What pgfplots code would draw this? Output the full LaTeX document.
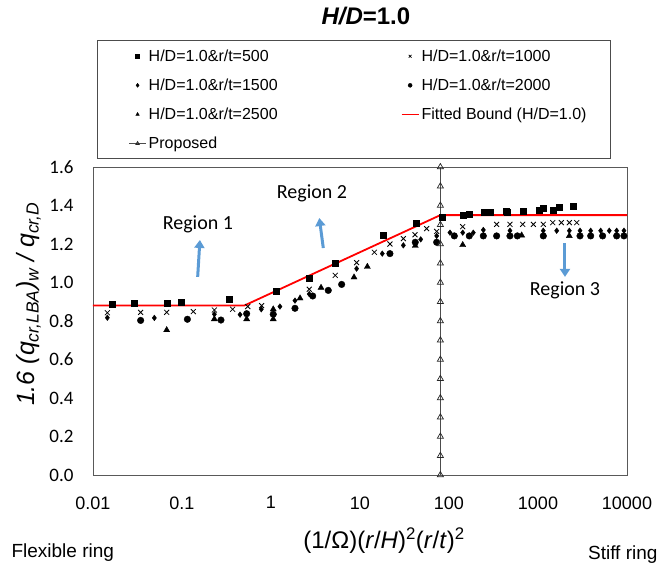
\documentclass[border=0pt]{standalone}
\usepackage{pgfplots}
\pgfplotsset{compat=1.18}
\usepackage{fontspec}
\setmainfont{Liberation Sans}
\newfontfamily\calibri{Carlito}
\usetikzlibrary{arrows.meta}
\definecolor{arrowblue}{RGB}{91,155,213}
\definecolor{axgray}{RGB}{89,89,89}
\begin{document}
\begin{tikzpicture}
\path[use as bounding box] (0,0) rectangle (662pt,570pt);
\begin{axis}[
  scale only axis, width=534pt, height=308pt,
  at={(93pt,95pt)}, anchor=south west,
  xmode=log, log basis x=10,
  xmin=0.01, xmax=10000, ymin=0, ymax=1.6,
  xtick={0.01,0.1,1,10,100,1000,10000},
  xticklabels={0.01,0.1,1,10,100,1000,10000},
  ytick={0,0.2,0.4,0.6,0.8,1.0,1.2,1.4,1.6},
  yticklabels={0.0,0.2,0.4,0.6,0.8,1.0,1.2,1.4,1.6},
  major tick length=0pt, minor tick length=0pt,
  axis line style={draw=axgray, line width=0.9pt},
  xticklabel style={font=\fontsize{18}{21}\selectfont, yshift=-18pt},
  yticklabel style={font=\calibri\fontsize{19}{22}\selectfont, xshift=-16pt},
  xlabel={(1/Ω)(\textit{r}/\textit{H})\textsuperscript{2}(\textit{r}/\textit{t})\textsuperscript{2}},
  xlabel style={font=\fontsize{24}{28}\selectfont, at={(axis description cs:0.545,-0.214)}, anchor=center},
  ylabel={\textit{1.6 (q\textsubscript{cr,LBA})\textsubscript{w} / q\textsubscript{cr,D}}},
  ylabel style={font=\fontsize{25}{29}\selectfont, at={(axis description cs:-0.12,0.555)}, anchor=center},
  title={\textbf{\textit{H/D}=1.0}},
  title style={font=\fontsize{24}{28}\selectfont, at={(axis description cs:0.511,1.47)}, anchor=center},
  legend columns=2, legend cell align=left,
  legend style={draw=none, fill=none, at={(axis description cs:0.066,1.388)}, anchor=north west, inner sep=0pt, font=\fontsize{16}{19}\selectfont, row sep=12pt},
  legend image post style={mark size=2pt},
]
% r/t = 500 (squares)
\addplot[only marks, mark=square*, mark size=3pt, black] coordinates {
(0.0166,0.888)(0.0289,0.89)(0.068,0.895)(0.097,0.90)(0.335,0.913)(1.13,0.957)(2.69,1.023)(5.27,1.098)(18.0,1.245)(42.6,1.307)(83,1.337)(142.6,1.347)(167.8,1.356)(249.6,1.363)(289,1.363)(437,1.368)(456,1.364)(684,1.371)(1026,1.373)(1147,1.385)(1463,1.375)(1709,1.389)(2456,1.394)};
\addlegendentry{\makebox[250pt][l]{H/D=1.0\&r/t=500}}
% r/t = 1000 (x)
\addplot[only marks, mark=x, mark size=3.5pt, black, line width=0.8pt] coordinates {
(0.0145,0.843)(0.0343,0.845)(0.0673,0.845)(0.134,0.849)(0.231,0.857)(0.371,0.861)(0.548,0.875)(0.785,0.88)(2.69,0.965)(5.27,1.037)(9.16,1.103)(14.5,1.157)(21.7,1.2)(30.7,1.228)(41.5,1.248)(56.1,1.28)(72.7,1.265)(142.6,1.29)(343,1.302)(484,1.302)(673,1.302)(887,1.302)(1147,1.302)(1463,1.311)(1828,1.311)(2249,1.311)(2724,1.311)};
\addlegendentry{H/D=1.0\&r/t=1000}
% r/t = 1500 (diamonds)
\addplot[only marks, mark=diamond*, mark size=2.8pt, black] coordinates {
(0.0145,0.817)(0.0489,0.816)(0.231,0.835)(0.449,0.833)(0.778,0.861)(1.26,0.875)(1.86,0.906)(2.69,0.94)(9.16,1.072)(17.8,1.15)(30.7,1.193)(48.1,1.224)(72.7,1.242)(102.6,1.259)(142.6,1.259)(187.6,1.259)(243,1.273)(484,1.269)(1147,1.269)(1622,1.269)(2249,1.269)(2965,1.269)(3908,1.269)(5060,1.269)(6325,1.269)(7656,1.269)(9244,1.269)};
\addlegendentry{\makebox[250pt][l]{H/D=1.0\&r/t=1500}}
% r/t = 2000 (circles)
\addplot[only marks, mark=*, mark size=3.3pt, black] coordinates {
(0.0343,0.803)(0.115,0.809)(0.274,0.805)(0.533,0.838)(1.06,0.835)(1.86,0.866)(2.94,0.93)(4.40,0.959)(6.22,0.99)(21.7,1.15)(41.8,1.209)(72.7,1.209)(114.7,1.242)(169,1.242)(243,1.242)(343,1.242)(484,1.242)(586,1.242)(1147,1.242)(2965,1.242)(3908,1.242)(5322,1.242)(7656,1.242)(9244,1.242)};
\addlegendentry{H/D=1.0\&r/t=2000}
% r/t = 2500 (triangles)
\addplot[only marks, mark=triangle*, mark size=3.5pt, black] coordinates {
(0.0673,0.753)(0.231,0.81)(0.533,0.81)(1.06,0.861)(1.06,0.81)(2.12,0.918)(3.65,0.973)(8.57,1.027)(12.1,1.082)(41.8,1.191)(142.6,1.195)(655,1.245)(2249,1.242)};
\addlegendentry{\makebox[250pt][l]{H/D=1.0\&r/t=2500}}
% fitted bound
\addplot[red, line width=1.8pt] coordinates {(0.01,0.88)(0.5,0.88)(80,1.35)(10000,1.35)};
\addlegendentry{Fitted Bound (H/D=1.0)}
% proposed
\addplot[black!70, line width=1.2pt, mark=triangle, mark size=3.5pt, mark options={solid, fill=white, draw=black!85, line width=0.7pt}] coordinates {
(80,0)(80,0.1)(80,0.2)(80,0.3)(80,0.4)(80,0.5)(80,0.6)(80,0.7)(80,0.8)(80,0.9)(80,1.0)(80,1.1)(80,1.2)(80,1.3)(80,1.4)(80,1.5)(80,1.6)};
\addlegendentry{Proposed}
% annotations
\draw[arrowblue, line width=3pt, -{Triangle[length=8pt, width=10pt]}] (axis cs:0.150,1.029) -- (axis cs:0.159,1.221);
\draw[arrowblue, line width=3pt, -{Triangle[length=8pt, width=10pt]}] (axis cs:3.87,1.179) -- (axis cs:3.49,1.335);
\draw[arrowblue, line width=3pt, -{Triangle[length=8pt, width=10pt]}] (axis cs:2010,1.205) -- (axis cs:2010,1.029);
\node[font=\calibri\fontsize{20}{24}\selectfont] at (axis cs:0.151,1.30) {Region 1};
\node[font=\calibri\fontsize{20}{24}\selectfont] at (axis cs:2.89,1.465) {Region 2};
\node[font=\calibri\fontsize{20}{24}\selectfont] at (axis cs:2010,0.961) {Region 3};
\end{axis}
\draw[black!70, line width=0.8pt] (97pt,412pt) rectangle (610pt,530pt);
\node[anchor=west, font=\fontsize{19}{22}\selectfont] at (8pt,17pt) {Flexible ring};
\node[anchor=east, font=\fontsize{19}{22}\selectfont] at (661pt,15pt) {Stiff ring};
\end{tikzpicture}
\end{document}
